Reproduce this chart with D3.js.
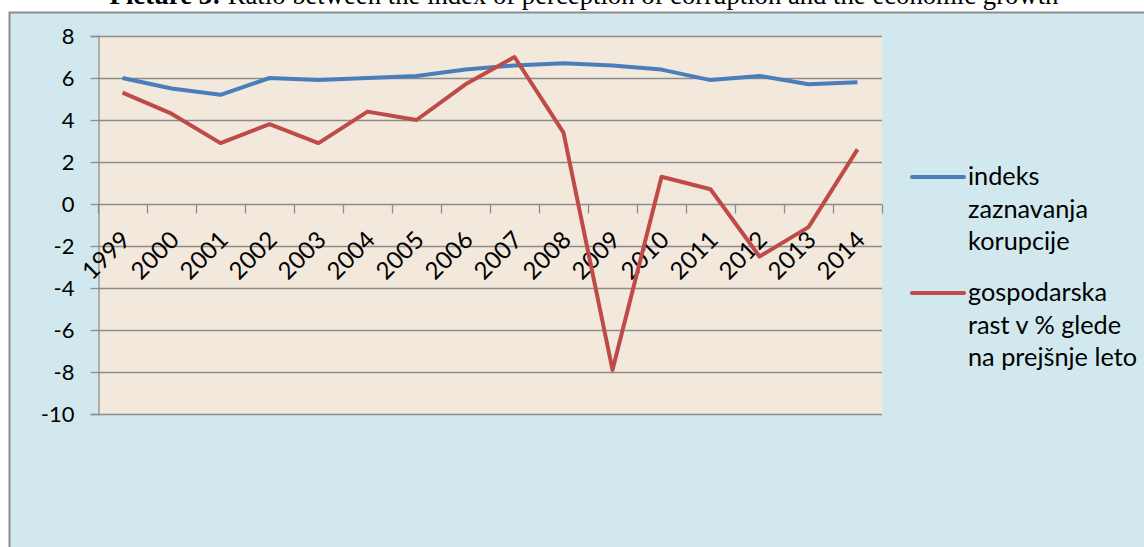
<!DOCTYPE html>
<html>
<head>
<meta charset="utf-8">
<script src="https://d3js.org/d3.v7.min.js"></script>
<style>
  body { margin: 0; background: #ffffff; }
  svg { display: block; }
</style>
</head>
<body>
<div id="chart"></div>
<script>
// data
var years = ["1999", "2000", "2001", "2002", "2003", "2004", "2005", "2006",
             "2007", "2008", "2009", "2010", "2011", "2012", "2013", "2014"];
var corruptionIndex = [6.0, 5.5, 5.2, 6.0, 5.9, 6.0, 6.1, 6.4, 6.6, 6.7, 6.6, 6.4, 5.9, 6.1, 5.7, 5.8];
var growth = [5.3, 4.3, 2.9, 3.8, 2.9, 4.4, 4.0, 5.7, 7.0, 3.4, -7.9, 1.3, 0.7, -2.5, -1.1, 2.6];
var yTicks = [8, 6, 4, 2, 0, -2, -4, -6, -8, -10];
var seriesNames = [["indeks", "zaznavanja", "korupcije"], ["gospodarska", "rast v % glede", "na prejšnje leto"]];
var seriesColors = ["#4a7ebb", "#be4b48"];

var W = 1144, H = 547;
var svg = d3.select("#chart").append("svg").attr("width", W).attr("height", H);

// title (cut at the top of the picture)
var title = svg.append("text")
    .attr("x", 584).attr("y", 4)
    .attr("text-anchor", "middle")
    .style("font-family", "Liberation Serif, Times New Roman, serif")
    .style("font-size", "26.7px")
    .attr("fill", "#000");
title.append("tspan").style("font-weight", "bold").text("Picture 3:");
title.append("tspan").text(" Ratio between the index of perception of corruption and the economic growth");

// chart area box
svg.append("rect")
    .attr("x", 9.5).attr("y", 12.5)
    .attr("width", W + 10).attr("height", H + 10)
    .attr("fill", "#d1e9ee")
    .attr("stroke", "#8c8c8c")
    .attr("stroke-width", 2);

var plotLeft = 98, plotRight = 882, plotTop = 36, plotBottom = 414;
var x = d3.scaleBand().domain(years).range([plotLeft, plotRight]);
var y = d3.scaleLinear().domain([-10, 8]).range([plotBottom, plotTop]);

// plot background
svg.append("rect")
    .attr("x", plotLeft).attr("y", plotTop)
    .attr("width", plotRight - plotLeft).attr("height", plotBottom - plotTop)
    .attr("fill", "#f3e8dc");

// gridlines
svg.append("g").selectAll("line")
    .data(yTicks)
    .enter()
    .append("line")
    .attr("x1", plotLeft).attr("x2", plotRight)
    .attr("y1", function (d) { return Math.round(y(d)) + 0.5; })
    .attr("y2", function (d) { return Math.round(y(d)) + 0.5; })
    .attr("stroke", "#8c8c8c")
    .attr("stroke-width", 1.3);

// y axis
var yAxis = d3.axisLeft(y).tickValues(yTicks).tickSize(8).tickPadding(16).tickFormat(d3.format("d"));
var gy = svg.append("g")
    .attr("transform", "translate(" + (plotLeft + 0.5) + ",0)")
    .call(yAxis);
gy.selectAll("path, line").attr("stroke", "#8c8c8c").attr("stroke-width", 1.3);
gy.selectAll("text")
    .style("font-family", "Lato, Open Sans, sans-serif")
    .style("font-size", "22px")
    .attr("fill", "#000");
gy.selectAll(".tick text").text(function (d) { return d < 0 ? "-" + Math.abs(d) : d; });

// category axis at zero, ticks between categories
var zeroY = Math.round(y(0)) + 0.5;
var boundaries = d3.range(years.length + 1).map(function (i) { return plotLeft + i * x.bandwidth(); });
svg.append("g").selectAll("line")
    .data(boundaries)
    .enter()
    .append("line")
    .attr("x1", function (d) { return Math.round(d) + 0.5; })
    .attr("x2", function (d) { return Math.round(d) + 0.5; })
    .attr("y1", zeroY).attr("y2", zeroY + 9)
    .attr("stroke", "#8c8c8c")
    .attr("stroke-width", 1.3);

svg.append("g").selectAll("text")
    .data(years)
    .enter()
    .append("text")
    .attr("text-anchor", "end")
    .attr("transform", function (d) {
        return "translate(" + (x(d) + x.bandwidth() / 2 + 9) + "," + (zeroY + 37) + ") rotate(-45)";
    })
    .style("font-family", "Lato, Open Sans, sans-serif")
    .style("font-size", "24px")
    .attr("fill", "#000")
    .text(function (d) { return d; });

// lines
var line = d3.line()
    .x(function (d, i) { return x(years[i]) + x.bandwidth() / 2; })
    .y(function (d) { return y(d); });

[corruptionIndex, growth].forEach(function (s, k) {
    svg.append("path")
        .datum(s)
        .attr("d", line)
        .attr("fill", "none")
        .attr("stroke", seriesColors[k])
        .attr("stroke-width", 4)
        .attr("stroke-linejoin", "round");
});

// legend
var legendY = [177, 293];
seriesNames.forEach(function (names, k) {
    var g = svg.append("g");
    g.append("line")
        .attr("x1", 912).attr("x2", 964)
        .attr("y1", legendY[k]).attr("y2", legendY[k])
        .attr("stroke", seriesColors[k])
        .attr("stroke-width", 4)
        .attr("stroke-linecap", "round");
    g.selectAll("text")
        .data(names)
        .enter()
        .append("text")
        .attr("x", 968)
        .attr("y", function (d, i) { return legendY[k] + 8 + i * 32.5; })
        .style("font-family", "Lato, Open Sans, sans-serif")
        .style("font-size", "25.3px")
        .attr("fill", "#000")
        .text(function (d) { return d; });
});
</script>
</body>
</html>
